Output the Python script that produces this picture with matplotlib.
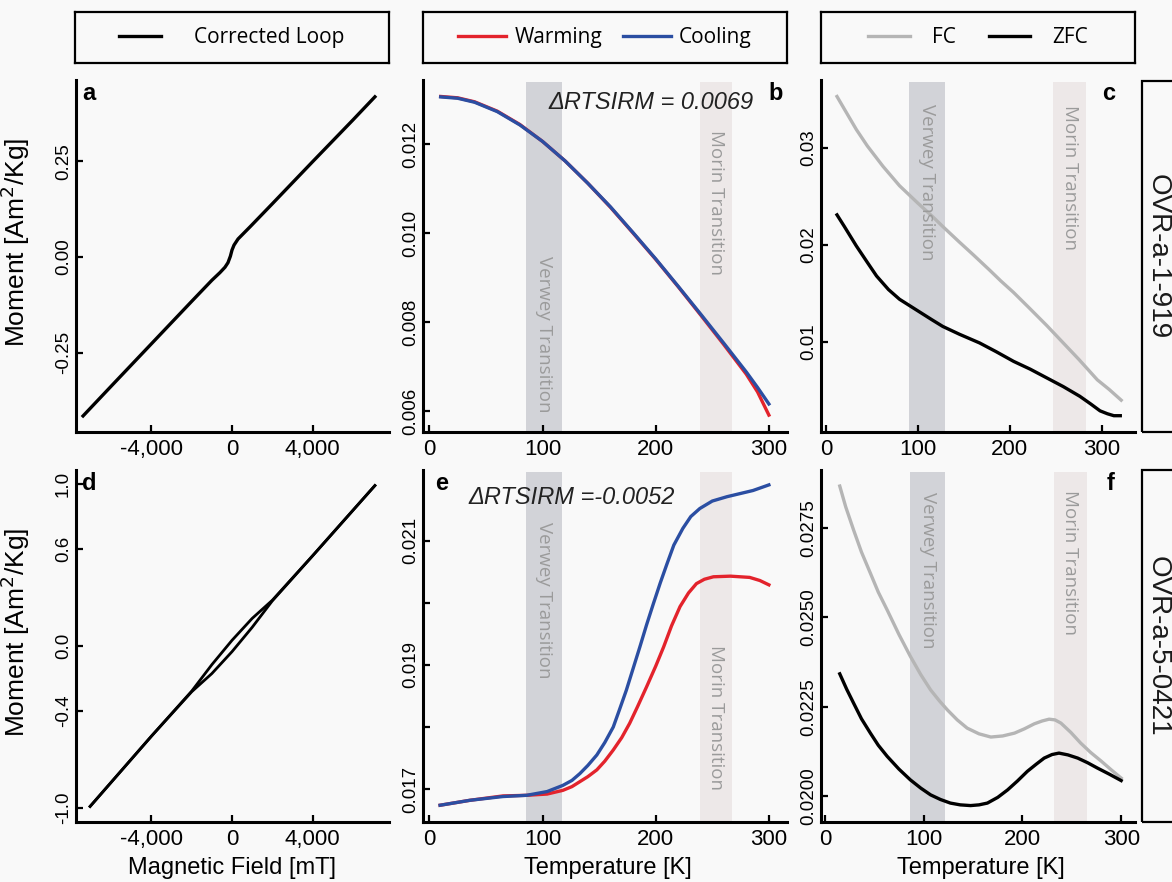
import matplotlib.pyplot as plt
from matplotlib.patches import Rectangle

# ---- hysteresis loops (field in mT, moment in Am2/kg) ----
loop_a_field = [-7400, -6000, -4000, -2000, -1000, -600, -350, -200, -80, 0, 100, 300, 900, 2000, 4000, 6000, 7100]
loop_a_moment = [-0.416, -0.338, -0.227, -0.116, -0.061, -0.041, -0.027, -0.015, 0.002, 0.018, 0.031, 0.047,
                 0.079, 0.139, 0.249, 0.358, 0.419]

loop_d_field = [-7050, -4000, -2000, -1000, 0, 1000, 2000, 4000, 7100]
loop_d_upper = [-0.99, -0.556, -0.278, -0.115, 0.035, 0.170, 0.282, 0.556, 0.99]
loop_d_lower = [-0.99, -0.556, -0.282, -0.170, -0.035, 0.115, 0.278, 0.556, 0.99]

# ---- RTSIRM cycles, sample OVR-a-1-919 ----
rt_b_temp = [10, 25, 40, 60, 80, 100, 120, 140, 160, 180, 200, 220, 240, 260, 280, 290, 300]
rt_b_cool = [0.01306, 0.01303, 0.01294, 0.01273, 0.01243, 0.01206, 0.01162, 0.01112, 0.01059, 0.01001,
             0.00942, 0.00880, 0.00817, 0.00753, 0.00688, 0.00653, 0.00616]
rt_b_warm = [0.01307, 0.01304, 0.01295, 0.01274, 0.01244, 0.01206, 0.01162, 0.01112, 0.01058, 0.01000,
             0.00941, 0.00879, 0.00815, 0.00750, 0.00683, 0.00643, 0.00591]

# ---- RTSIRM cycles, sample OVR-a-5-0421 ----
rt_e_cool_temp = [9.5, 36, 65, 86, 104, 118, 126, 133, 140, 148, 155, 162.5, 168, 174, 180, 186, 192, 198, 204,
                  210, 216, 224, 231, 239, 250, 263, 286, 300]
rt_e_cool = [0.01674, 0.01682, 0.01688, 0.01690, 0.01696, 0.01706, 0.01714, 0.01725, 0.01738, 0.01755,
             0.01775, 0.01800, 0.01828, 0.01859, 0.01894, 0.01929, 0.01965, 0.01999, 0.02032, 0.02063,
             0.02093, 0.02120, 0.02139, 0.02152, 0.02164, 0.02171, 0.02181, 0.02190]
rt_e_warm_temp = [9.5, 36, 65, 86, 104, 118, 126, 133, 140, 148, 155, 162.5, 170, 177, 184, 192, 200, 207, 214,
                  221.5, 229, 236, 243, 251, 266, 283, 292, 300]
rt_e_warm = [0.01674, 0.01682, 0.01689, 0.01690, 0.01692, 0.01698, 0.01704, 0.01712, 0.01720, 0.01731,
             0.01745, 0.01763, 0.01783, 0.01806, 0.01833, 0.01865, 0.01898, 0.01929, 0.01963, 0.01994,
             0.02016, 0.02031, 0.02038, 0.02042, 0.02043, 0.02041, 0.02036, 0.02029]

# ---- FC / ZFC curves, OVR-a-1-919 ----
fc_c_temp = [12, 20, 33, 45, 62, 80, 100, 115, 127, 145, 160, 178, 190, 204, 220, 240, 258, 275, 295, 308, 321]
fc_c_fc = [0.0353, 0.0340, 0.0319, 0.0302, 0.0281, 0.0261, 0.0243, 0.0230, 0.0219, 0.0203, 0.0190, 0.0174,
           0.0163, 0.0151, 0.0136, 0.0117, 0.0099, 0.0082, 0.0061, 0.0051, 0.0040]
zfc_c_temp = [12, 20, 33, 45, 55, 68, 80, 90, 100, 115, 127, 145, 167, 185, 204, 222, 240, 258, 276, 288, 298,
              306, 313, 320]
fc_c_zfc = [0.0231, 0.0219, 0.0199, 0.0182, 0.0168, 0.0154, 0.0144, 0.0138, 0.0132, 0.0123, 0.0116, 0.0108,
            0.0099, 0.0090, 0.0080, 0.0072, 0.0063, 0.0054, 0.0044, 0.0036, 0.0029, 0.0026, 0.0024, 0.0024]

# ---- FC / ZFC curves, OVR-a-5-0421 ----
fc_f_temp = [15, 21, 29, 37, 46, 54, 63, 75, 86.5, 97, 107, 116, 124, 134, 144, 156, 168, 180, 192, 202, 212,
             220, 227, 233, 239, 249, 259, 269, 280, 290, 300]
fc_f_fc = [0.02868, 0.02810, 0.02745, 0.02683, 0.02624, 0.02571, 0.02521, 0.02452, 0.02391, 0.02340,
           0.02297, 0.02266, 0.02241, 0.02213, 0.02190, 0.02174, 0.02165, 0.02168, 0.02176, 0.02188,
           0.02202, 0.02210, 0.02215, 0.02213, 0.02204, 0.02178, 0.02148, 0.02122, 0.02097, 0.02073, 0.02050]
zfc_f_temp = [15, 22, 29, 37, 46, 54, 63, 75, 86.5, 97, 107, 117, 127, 137, 147.5, 156, 164.5, 175, 185, 195,
              205, 214, 222, 230, 237, 246, 256, 266, 276, 288, 300]
fc_f_zfc = [0.02342, 0.02299, 0.02260, 0.02216, 0.02176, 0.02142, 0.02111, 0.02075, 0.02045, 0.02022,
            0.02003, 0.01990, 0.01980, 0.01975, 0.01973, 0.01975, 0.01980, 0.01996, 0.02017, 0.02042,
            0.02069, 0.02089, 0.02106, 0.02116, 0.02120, 0.02115, 0.02106, 0.02093, 0.02078, 0.02061, 0.02043]

# transition bands (K)
verwey_be = (85.5, 117.5)
morin_be = (239, 267)
verwey_c = (90, 129.5)
morin_c = (247, 283)
verwey_f = (86, 122)
morin_f = (232, 265)

# ticks
field_ticks = [-4000, 0, 4000]
field_labels = ['-4,000', '0', '4,000']
temp_ticks = [0, 100, 200, 300]
temp_labels = ['0', '100', '200', '300']
a_yticks = [-0.25, 0.0, 0.25]
a_ylabels = ['-0.25', '0.00', '0.25']
d_yticks = [-1.0, -0.4, 0.0, 0.6, 1.0]
d_ylabels = ['-1.0', '-0.4', '0.0', '0.6', '1.0']
b_yticks = [0.006, 0.008, 0.010, 0.012]
b_ylabels = ['0.006', '0.008', '0.010', '0.012']
c_yticks = [0.01, 0.02, 0.03]
c_ylabels = ['0.01', '0.02', '0.03']
e_yticks = [0.017, 0.018, 0.019, 0.020, 0.021]
e_ylabels = ['0.017', '', '0.019', '', '0.021']
f_yticks = [0.0200, 0.0225, 0.0250, 0.0275]
f_ylabels = ['0.0200', '0.0225', '0.0250', '0.0275']

samples = ['OVR-a-1-919', 'OVR-a-5-0421']
delta_b = 'ΔRTSIRM = 0.0069'
delta_e = 'ΔRTSIRM =-0.0052'

RED = '#e3232c'
BLUE = '#2b4ea2'
FC_GREY = '#b5b5b5'
VERWEY_COL = '#d2d3d8'
MORIN_COL = '#ede8e8'
BAND_TEXT = '#9b9b9b'

plt.rcParams['font.family'] = ['Liberation Sans', 'DejaVu Sans']
plt.rcParams['lines.solid_joinstyle'] = 'round'

W, H = 1172, 882
fig = plt.figure(figsize=(W / 100, H / 100), dpi=100, facecolor='#f9f9f9')


def px_axes(left, top, right, bottom):
    return fig.add_axes([left / W, 1 - bottom / H, (right - left) / W, (bottom - top) / H])


def style(ax, xt, xl, yt, yl):
    ax.set_facecolor('none')
    for s in ['top', 'right']:
        ax.spines[s].set_visible(False)
    for s in ['left', 'bottom']:
        ax.spines[s].set_linewidth(2.2)
    ax.set_xticks(xt)
    ax.set_xticklabels(xl)
    ax.set_yticks(yt)
    ax.set_yticklabels(yl)
    ax.tick_params(direction='in', length=5, width=1.6)
    ax.tick_params(axis='x', labelsize=16, pad=5)
    ax.tick_params(axis='y', labelsize=13.5, pad=3)
    plt.setp(ax.get_yticklabels(), rotation=90, va='center')


def bands(ax, verwey, morin, vy, my):
    ax.axvspan(*verwey, ymax=0.995, color=VERWEY_COL, lw=0, zorder=0)
    ax.axvspan(*morin, ymax=0.995, color=MORIN_COL, lw=0, zorder=0)
    tr = ax.get_xaxis_transform()
    ax.text(sum(verwey) / 2, vy, 'Verwey Transition', transform=tr, rotation=270, ha='center',
            va='center', color=BAND_TEXT, fontsize=13.5, family='Open Sans')
    ax.text(sum(morin) / 2, my, 'Morin Transition', transform=tr, rotation=270, ha='center',
            va='center', color=BAND_TEXT, fontsize=13.5, family='Open Sans')


def letter(ax, s, x, ha='left'):
    ax.text(x, 0.995, s, transform=ax.transAxes, ha=ha, va='top', fontsize=17, fontweight='bold')


ax_a = px_axes(76, 80, 389, 432)
ax_b = px_axes(423, 80, 787, 432)
ax_c = px_axes(821, 80, 1135, 432)
ax_d = px_axes(76, 470, 389, 822)
ax_e = px_axes(423, 470, 787, 822)
ax_f = px_axes(821, 470, 1135, 822)

# hysteresis
line_a, = ax_a.plot(loop_a_field, loop_a_moment, color='black', lw=2.4, label='Corrected Loop')
ax_a.set_xlim(-7750, 7800)
ax_a.set_ylim(-0.458, 0.463)
style(ax_a, field_ticks, field_labels, a_yticks, a_ylabels)
letter(ax_a, 'a', 0.02)

ax_d.plot(loop_d_field, loop_d_upper, color='black', lw=2.0)
ax_d.plot(loop_d_field, loop_d_lower, color='black', lw=2.0)
ax_d.set_xlim(-7750, 7800)
ax_d.set_ylim(-1.086, 1.086)
style(ax_d, field_ticks, field_labels, d_yticks, d_ylabels)
letter(ax_d, 'd', 0.02)

for ax in (ax_a, ax_d):
    ax.set_ylabel('Moment [Am$^2$/Kg]', fontsize=19)
    ax.yaxis.set_label_coords(-0.14, 0.54)
ax_d.set_xlabel('Magnetic Field [mT]', fontsize=17)
ax_d.xaxis.set_label_coords(0.5, -0.1)

# RTSIRM
bands(ax_b, verwey_be, morin_be, 0.277, 0.651)
line_w, = ax_b.plot(rt_b_temp, rt_b_warm, color=RED, lw=2.4, label='Warming')
line_c, = ax_b.plot(rt_b_temp, rt_b_cool, color=BLUE, lw=2.4, label='Cooling')
ax_b.set_xlim(-5.6, 316)
ax_b.set_ylim(0.00553, 0.01344)
style(ax_b, temp_ticks, temp_labels, b_yticks, b_ylabels)
letter(ax_b, 'b', 0.989, ha='right')
ax_b.text(0.346, 0.935, delta_b, transform=ax_b.transAxes, ha='left', va='center', fontsize=17,
          style='italic', color='#222222')

bands(ax_e, verwey_be, morin_be, 0.629, 0.297)
ax_e.plot(rt_e_warm_temp, rt_e_warm, color=RED, lw=2.4)
ax_e.plot(rt_e_cool_temp, rt_e_cool, color=BLUE, lw=2.4)
ax_e.set_xlim(-5.6, 316)
ax_e.set_ylim(0.01647, 0.02214)
style(ax_e, temp_ticks, temp_labels, e_yticks, e_ylabels)
letter(ax_e, 'e', 0.033)
ax_e.text(0.124, 0.923, delta_e, transform=ax_e.transAxes, ha='left', va='center', fontsize=17,
          style='italic', color='#222222')
ax_e.set_xlabel('Temperature [K]', fontsize=17)
ax_e.xaxis.set_label_coords(0.507, -0.1)

# FC / ZFC
bands(ax_c, verwey_c, morin_c, 0.709, 0.724)
line_fc, = ax_c.plot(fc_c_temp, fc_c_fc, color=FC_GREY, lw=2.4, label='FC')
line_zfc, = ax_c.plot(zfc_c_temp, fc_c_zfc, color='black', lw=2.4, label='ZFC')
ax_c.set_xlim(-5.4, 336)
ax_c.set_ylim(0.00072, 0.037)
style(ax_c, temp_ticks, temp_labels, c_yticks, c_ylabels)
letter(ax_c, 'c', 0.936, ha='right')

bands(ax_f, verwey_f, morin_f, 0.716, 0.736)
ax_f.plot(fc_f_temp, fc_f_fc, color=FC_GREY, lw=2.4)
ax_f.plot(zfc_f_temp, fc_f_zfc, color='black', lw=2.4)
ax_f.set_xlim(-4, 314)
ax_f.set_ylim(0.01927, 0.02913)
style(ax_f, temp_ticks, temp_labels, f_yticks, f_ylabels)
letter(ax_f, 'f', 0.936, ha='right')
ax_f.set_xlabel('Temperature [K]', fontsize=17)
ax_f.xaxis.set_label_coords(0.51, -0.1)

# legend boxes above each column
leg_font = {'family': 'Open Sans', 'size': 15}
legend_specs = [
    ((75, 12, 389, 63), [line_a], dict(handlelength=2.0, handletextpad=1.6)),
    ((423, 12, 787, 63), [line_w, line_c], dict(handlelength=2.3, handletextpad=0.4, columnspacing=1.0)),
    ((821, 12, 1135, 63), [line_fc, line_zfc], dict(handlelength=2.0, handletextpad=1.05, columnspacing=1.6)),
]
for box, handles, kw in legend_specs:
    lax = px_axes(*box)
    lax.set_facecolor('none')
    lax.set_xticks([])
    lax.set_yticks([])
    for sp in lax.spines.values():
        sp.set_linewidth(1.6)
    lax.legend(handles=handles, loc='center', frameon=False, ncol=len(handles), prop=leg_font, **kw)

# sample strips on the right
for (top, bottom), name in zip([(81, 432), (470, 822)], samples):
    fig.add_artist(Rectangle((1142 / W, 1 - bottom / H), 0.2, (bottom - top) / H, transform=fig.transFigure,
                             fill=False, lw=1.6, ec='black', clip_on=False))
    fig.text(1158 / W, 1 - (top + bottom) / 2 / H, name, rotation=270, ha='center', va='center',
             fontsize=20, color='#1a1a1a')

fig.savefig('out.png', dpi=100, facecolor=fig.get_facecolor())
